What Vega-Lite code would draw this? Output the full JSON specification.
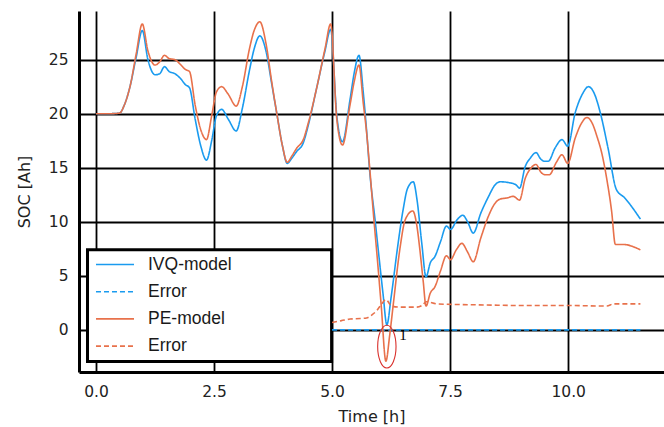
{
  "$schema": "https://vega.github.io/schema/vega-lite/v6.json",
  "autosize": {"type": "none"},
  "width": 585,
  "height": 361,
  "padding": {"left": 79, "top": 11, "right": 0, "bottom": 55},
  "background": "white",
  "config": {
    "view": {"stroke": null},
    "font": "DejaVu Sans",
    "axis": {
      "domainColor": "black",
      "domainWidth": 3,
      "gridColor": "black",
      "gridWidth": 1.8,
      "gridOpacity": 1,
      "ticks": false,
      "labelFont": "DejaVu Sans",
      "labelFontSize": 15.5,
      "labelColor": "#222",
      "titleFont": "DejaVu Sans",
      "titleFontSize": 16,
      "titleFontWeight": "normal",
      "titleColor": "#222"
    }
  },
  "datasets": {
    "lines": [
      {"s": "IVQ-model", "t": 0, "v": 20}, {"s": "IVQ-model", "t": 0.3, "v": 20}, {"s": "IVQ-model", "t": 0.5, "v": 20.05},
      {"s": "IVQ-model", "t": 0.6, "v": 20.8}, {"s": "IVQ-model", "t": 0.72, "v": 22.5}, {"s": "IVQ-model", "t": 0.85, "v": 25.2},
      {"s": "IVQ-model", "t": 0.98, "v": 27.7}, {"s": "IVQ-model", "t": 1.1, "v": 25.0}, {"s": "IVQ-model", "t": 1.25, "v": 23.6},
      {"s": "IVQ-model", "t": 1.35, "v": 23.7}, {"s": "IVQ-model", "t": 1.45, "v": 24.35}, {"s": "IVQ-model", "t": 1.55, "v": 23.9},
      {"s": "IVQ-model", "t": 1.67, "v": 23.7}, {"s": "IVQ-model", "t": 1.8, "v": 23.2}, {"s": "IVQ-model", "t": 1.89, "v": 22.7},
      {"s": "IVQ-model", "t": 1.98, "v": 22.4}, {"s": "IVQ-model", "t": 2.1, "v": 19.5}, {"s": "IVQ-model", "t": 2.22, "v": 17.0},
      {"s": "IVQ-model", "t": 2.34, "v": 15.7}, {"s": "IVQ-model", "t": 2.45, "v": 17.5}, {"s": "IVQ-model", "t": 2.55, "v": 19.8},
      {"s": "IVQ-model", "t": 2.66, "v": 20.4}, {"s": "IVQ-model", "t": 2.8, "v": 19.5}, {"s": "IVQ-model", "t": 2.97, "v": 18.4},
      {"s": "IVQ-model", "t": 3.1, "v": 20.5}, {"s": "IVQ-model", "t": 3.25, "v": 24.0}, {"s": "IVQ-model", "t": 3.35, "v": 26.0},
      {"s": "IVQ-model", "t": 3.47, "v": 27.2}, {"s": "IVQ-model", "t": 3.6, "v": 25.8}, {"s": "IVQ-model", "t": 3.72, "v": 22.8},
      {"s": "IVQ-model", "t": 3.83, "v": 20.0}, {"s": "IVQ-model", "t": 3.95, "v": 17.0}, {"s": "IVQ-model", "t": 4.05, "v": 15.4},
      {"s": "IVQ-model", "t": 4.15, "v": 15.9}, {"s": "IVQ-model", "t": 4.25, "v": 16.5}, {"s": "IVQ-model", "t": 4.39, "v": 17.3},
      {"s": "IVQ-model", "t": 4.5, "v": 19.0}, {"s": "IVQ-model", "t": 4.68, "v": 22.5}, {"s": "IVQ-model", "t": 4.85, "v": 25.8},
      {"s": "IVQ-model", "t": 4.97, "v": 27.8}, {"s": "IVQ-model", "t": 5.1, "v": 19.8}, {"s": "IVQ-model", "t": 5.22, "v": 17.4},
      {"s": "IVQ-model", "t": 5.38, "v": 21.3}, {"s": "IVQ-model", "t": 5.47, "v": 23.8}, {"s": "IVQ-model", "t": 5.57, "v": 25.4},
      {"s": "IVQ-model", "t": 5.66, "v": 22.0}, {"s": "IVQ-model", "t": 5.73, "v": 18.5}, {"s": "IVQ-model", "t": 5.8, "v": 14.5},
      {"s": "IVQ-model", "t": 5.91, "v": 10.2}, {"s": "IVQ-model", "t": 6.0, "v": 6.5}, {"s": "IVQ-model", "t": 6.08, "v": 3.3},
      {"s": "IVQ-model", "t": 6.16, "v": 0.46}, {"s": "IVQ-model", "t": 6.25, "v": 3.0}, {"s": "IVQ-model", "t": 6.38, "v": 7.4},
      {"s": "IVQ-model", "t": 6.5, "v": 11.0}, {"s": "IVQ-model", "t": 6.6, "v": 13.1}, {"s": "IVQ-model", "t": 6.72, "v": 13.7},
      {"s": "IVQ-model", "t": 6.8, "v": 12.0}, {"s": "IVQ-model", "t": 6.9, "v": 8.0}, {"s": "IVQ-model", "t": 6.99, "v": 4.9},
      {"s": "IVQ-model", "t": 7.08, "v": 6.2}, {"s": "IVQ-model", "t": 7.18, "v": 6.8}, {"s": "IVQ-model", "t": 7.3, "v": 8.2},
      {"s": "IVQ-model", "t": 7.42, "v": 9.6}, {"s": "IVQ-model", "t": 7.51, "v": 9.3}, {"s": "IVQ-model", "t": 7.65, "v": 10.2},
      {"s": "IVQ-model", "t": 7.77, "v": 10.6}, {"s": "IVQ-model", "t": 7.87, "v": 10.0}, {"s": "IVQ-model", "t": 7.99, "v": 8.95},
      {"s": "IVQ-model", "t": 8.15, "v": 10.8}, {"s": "IVQ-model", "t": 8.31, "v": 12.3}, {"s": "IVQ-model", "t": 8.45, "v": 13.4},
      {"s": "IVQ-model", "t": 8.56, "v": 13.7}, {"s": "IVQ-model", "t": 8.77, "v": 13.6}, {"s": "IVQ-model", "t": 8.9, "v": 13.4},
      {"s": "IVQ-model", "t": 8.97, "v": 13.1}, {"s": "IVQ-model", "t": 9.09, "v": 15.1}, {"s": "IVQ-model", "t": 9.2, "v": 15.9},
      {"s": "IVQ-model", "t": 9.32, "v": 16.4}, {"s": "IVQ-model", "t": 9.42, "v": 15.8}, {"s": "IVQ-model", "t": 9.49, "v": 15.6},
      {"s": "IVQ-model", "t": 9.58, "v": 15.6}, {"s": "IVQ-model", "t": 9.72, "v": 16.8}, {"s": "IVQ-model", "t": 9.87, "v": 17.6},
      {"s": "IVQ-model", "t": 9.99, "v": 17.0}, {"s": "IVQ-model", "t": 10.15, "v": 20.1}, {"s": "IVQ-model", "t": 10.3, "v": 21.8},
      {"s": "IVQ-model", "t": 10.43, "v": 22.5}, {"s": "IVQ-model", "t": 10.55, "v": 21.9}, {"s": "IVQ-model", "t": 10.68, "v": 20.1},
      {"s": "IVQ-model", "t": 10.85, "v": 16.7}, {"s": "IVQ-model", "t": 11.02, "v": 13.0}, {"s": "IVQ-model", "t": 11.2, "v": 12.2},
      {"s": "IVQ-model", "t": 11.53, "v": 10.25},

      {"s": "IVQ-error", "t": 5.0, "v": 0}, {"s": "IVQ-error", "t": 11.53, "v": 0},

      {"s": "PE-model", "t": 0, "v": 20}, {"s": "PE-model", "t": 0.3, "v": 20}, {"s": "PE-model", "t": 0.5, "v": 20.05},
      {"s": "PE-model", "t": 0.6, "v": 20.8}, {"s": "PE-model", "t": 0.72, "v": 22.5}, {"s": "PE-model", "t": 0.85, "v": 25.5},
      {"s": "PE-model", "t": 0.98, "v": 28.3}, {"s": "PE-model", "t": 1.1, "v": 25.8}, {"s": "PE-model", "t": 1.25, "v": 24.5},
      {"s": "PE-model", "t": 1.35, "v": 24.8}, {"s": "PE-model", "t": 1.45, "v": 25.4}, {"s": "PE-model", "t": 1.55, "v": 25.1},
      {"s": "PE-model", "t": 1.67, "v": 25.0}, {"s": "PE-model", "t": 1.8, "v": 24.5}, {"s": "PE-model", "t": 1.89, "v": 24.1},
      {"s": "PE-model", "t": 1.98, "v": 23.9}, {"s": "PE-model", "t": 2.1, "v": 20.8}, {"s": "PE-model", "t": 2.22, "v": 18.5},
      {"s": "PE-model", "t": 2.34, "v": 17.6}, {"s": "PE-model", "t": 2.45, "v": 19.8}, {"s": "PE-model", "t": 2.55, "v": 22.0},
      {"s": "PE-model", "t": 2.66, "v": 22.5}, {"s": "PE-model", "t": 2.8, "v": 21.8}, {"s": "PE-model", "t": 2.97, "v": 20.7},
      {"s": "PE-model", "t": 3.1, "v": 22.5}, {"s": "PE-model", "t": 3.25, "v": 26.0}, {"s": "PE-model", "t": 3.35, "v": 27.7},
      {"s": "PE-model", "t": 3.47, "v": 28.5}, {"s": "PE-model", "t": 3.6, "v": 26.5}, {"s": "PE-model", "t": 3.72, "v": 23.0},
      {"s": "PE-model", "t": 3.83, "v": 20.0}, {"s": "PE-model", "t": 3.95, "v": 17.0}, {"s": "PE-model", "t": 4.05, "v": 15.5},
      {"s": "PE-model", "t": 4.15, "v": 16.1}, {"s": "PE-model", "t": 4.25, "v": 16.8}, {"s": "PE-model", "t": 4.39, "v": 17.6},
      {"s": "PE-model", "t": 4.5, "v": 19.2}, {"s": "PE-model", "t": 4.68, "v": 22.5}, {"s": "PE-model", "t": 4.85, "v": 26.0},
      {"s": "PE-model", "t": 4.97, "v": 28.3}, {"s": "PE-model", "t": 5.1, "v": 19.5}, {"s": "PE-model", "t": 5.22, "v": 17.1},
      {"s": "PE-model", "t": 5.38, "v": 20.8}, {"s": "PE-model", "t": 5.47, "v": 23.0}, {"s": "PE-model", "t": 5.57, "v": 24.5},
      {"s": "PE-model", "t": 5.66, "v": 21.0}, {"s": "PE-model", "t": 5.73, "v": 18.3}, {"s": "PE-model", "t": 5.8, "v": 14.8},
      {"s": "PE-model", "t": 5.88, "v": 10.5}, {"s": "PE-model", "t": 5.96, "v": 6.5}, {"s": "PE-model", "t": 6.04, "v": 2.3},
      {"s": "PE-model", "t": 6.14, "v": -2.9}, {"s": "PE-model", "t": 6.22, "v": -0.5}, {"s": "PE-model", "t": 6.3, "v": 2.5},
      {"s": "PE-model", "t": 6.44, "v": 7.6}, {"s": "PE-model", "t": 6.55, "v": 10.2}, {"s": "PE-model", "t": 6.71, "v": 11.0},
      {"s": "PE-model", "t": 6.8, "v": 9.5}, {"s": "PE-model", "t": 6.86, "v": 7.4}, {"s": "PE-model", "t": 6.93, "v": 4.5},
      {"s": "PE-model", "t": 6.99, "v": 2.2}, {"s": "PE-model", "t": 7.08, "v": 3.4}, {"s": "PE-model", "t": 7.18, "v": 4.0},
      {"s": "PE-model", "t": 7.3, "v": 5.5}, {"s": "PE-model", "t": 7.42, "v": 6.85}, {"s": "PE-model", "t": 7.51, "v": 6.5},
      {"s": "PE-model", "t": 7.63, "v": 7.4}, {"s": "PE-model", "t": 7.75, "v": 8.0}, {"s": "PE-model", "t": 7.87, "v": 7.2},
      {"s": "PE-model", "t": 7.99, "v": 6.3}, {"s": "PE-model", "t": 8.15, "v": 8.5}, {"s": "PE-model", "t": 8.31, "v": 10.5},
      {"s": "PE-model", "t": 8.45, "v": 11.7}, {"s": "PE-model", "t": 8.56, "v": 12.1}, {"s": "PE-model", "t": 8.7, "v": 12.2},
      {"s": "PE-model", "t": 8.84, "v": 12.35}, {"s": "PE-model", "t": 8.97, "v": 12.0}, {"s": "PE-model", "t": 9.09, "v": 14.0},
      {"s": "PE-model", "t": 9.2, "v": 14.9}, {"s": "PE-model", "t": 9.32, "v": 15.3}, {"s": "PE-model", "t": 9.42, "v": 14.6},
      {"s": "PE-model", "t": 9.51, "v": 14.35}, {"s": "PE-model", "t": 9.6, "v": 14.35}, {"s": "PE-model", "t": 9.75, "v": 15.5},
      {"s": "PE-model", "t": 9.87, "v": 16.2}, {"s": "PE-model", "t": 9.99, "v": 15.4}, {"s": "PE-model", "t": 10.15, "v": 17.75},
      {"s": "PE-model", "t": 10.28, "v": 19.1}, {"s": "PE-model", "t": 10.4, "v": 19.65}, {"s": "PE-model", "t": 10.5, "v": 19.2},
      {"s": "PE-model", "t": 10.61, "v": 17.9}, {"s": "PE-model", "t": 10.72, "v": 16.2}, {"s": "PE-model", "t": 10.82, "v": 13.9},
      {"s": "PE-model", "t": 10.92, "v": 11.0}, {"s": "PE-model", "t": 11.0, "v": 7.9}, {"s": "PE-model", "t": 11.17, "v": 7.9},
      {"s": "PE-model", "t": 11.53, "v": 7.4},

      {"s": "PE-error", "t": 5.0, "v": 0.68}, {"s": "PE-error", "t": 5.2, "v": 0.85}, {"s": "PE-error", "t": 5.38, "v": 1.0},
      {"s": "PE-error", "t": 5.6, "v": 1.05}, {"s": "PE-error", "t": 5.73, "v": 1.1}, {"s": "PE-error", "t": 5.85, "v": 1.4},
      {"s": "PE-error", "t": 5.95, "v": 1.8}, {"s": "PE-error", "t": 6.05, "v": 2.4}, {"s": "PE-error", "t": 6.14, "v": 2.8},
      {"s": "PE-error", "t": 6.26, "v": 2.2}, {"s": "PE-error", "t": 6.44, "v": 2.1}, {"s": "PE-error", "t": 6.79, "v": 2.1},
      {"s": "PE-error", "t": 6.92, "v": 2.3}, {"s": "PE-error", "t": 6.99, "v": 2.6}, {"s": "PE-error", "t": 7.22, "v": 2.4},
      {"s": "PE-error", "t": 7.6, "v": 2.35}, {"s": "PE-error", "t": 8.28, "v": 2.3}, {"s": "PE-error", "t": 9.0, "v": 2.25},
      {"s": "PE-error", "t": 10.0, "v": 2.25}, {"s": "PE-error", "t": 10.82, "v": 2.2}, {"s": "PE-error", "t": 10.96, "v": 2.4},
      {"s": "PE-error", "t": 11.53, "v": 2.4}
    ],
    "box": [{"x1": -0.18, "x2": 4.99, "y1": -2.94, "y2": 7.41}],
    "mark": [{"t": 6.16, "v": -1.55, "label": "1", "lt": 6.5, "lv": -0.45}]
  },
  "layer": [
    {
      "data": {"name": "box"},
      "mark": {"type": "rect", "fill": "white", "stroke": "black", "strokeWidth": 3},
      "encoding": {
        "x": {"field": "x1", "type": "quantitative", "scale": {"domain": [-0.36, 12.03], "nice": false, "zero": false}},
        "x2": {"field": "x2"},
        "y": {"field": "y1", "type": "quantitative", "scale": {"domain": [-3.9, 29.5], "nice": false, "zero": false}},
        "y2": {"field": "y2"}
      }
    },
    {
      "data": {"name": "lines"},
      "mark": {"type": "line", "strokeWidth": 1.6, "interpolate": "monotone"},
      "encoding": {
        "x": {"field": "t", "type": "quantitative", "title": "Time [h]",
          "axis": {"values": [0, 2.5, 5, 7.5, 10], "format": ".1f", "labelPadding": 12, "titlePadding": 9}},
        "y": {"field": "v", "type": "quantitative", "title": "SOC [Ah]",
          "axis": {"values": [0, 5, 10, 15, 20, 25], "labelPadding": 11, "titlePadding": 16}},
        "color": {
          "field": "s", "type": "nominal",
          "scale": {"domain": ["IVQ-model", "IVQ-error", "PE-model", "PE-error"], "range": ["#1A9BEF", "#1A9BEF", "#E8714B", "#E8714B"]},
          "legend": {
            "title": null, "orient": "none", "legendX": 22.5, "legendY": 240,
            "symbolType": "M-1.515,0H1.515", "symbolSize": 630, "symbolStrokeWidth": 1.6,
            "labelFont": "Liberation Sans", "labelFontSize": 17.5, "labelColor": "#1a1a1a", "labelOffset": 19.5,
            "rowPadding": 5.2, "padding": 0,
            "labelExpr": "indexof(datum.label, 'error') >= 0 ? 'Error' : datum.label"
          }
        },
        "strokeDash": {
          "field": "s", "type": "nominal",
          "scale": {"domain": ["IVQ-model", "IVQ-error", "PE-model", "PE-error"], "range": [[1, 0], [5, 3], [1, 0], [5, 3]]},
          "legend": {
            "title": null, "orient": "none", "legendX": 22.5, "legendY": 240,
            "symbolType": "M-1.515,0H1.515", "symbolSize": 630, "symbolStrokeWidth": 1.6,
            "labelFont": "Liberation Sans", "labelFontSize": 17.5, "labelColor": "#1a1a1a", "labelOffset": 19.5,
            "rowPadding": 5.2, "padding": 0,
            "labelExpr": "indexof(datum.label, 'error') >= 0 ? 'Error' : datum.label"
          }
        }
      }
    },
    {
      "data": {"name": "mark"},
      "mark": {"type": "point", "shape": "M0,-1 A0.43,1 0 1,1 0,1 A0.43,1 0 1,1 0,-1 Z", "size": 1823, "filled": false, "stroke": "#D9302C", "strokeWidth": 1.1, "opacity": 1},
      "encoding": {
        "x": {"field": "t", "type": "quantitative"},
        "y": {"field": "v", "type": "quantitative"}
      }
    },
    {
      "data": {"name": "mark"},
      "mark": {"type": "text", "font": "Liberation Serif", "fontSize": 15, "color": "black"},
      "encoding": {
        "x": {"field": "lt", "type": "quantitative"},
        "y": {"field": "lv", "type": "quantitative"},
        "text": {"field": "label"}
      }
    }
  ]
}
